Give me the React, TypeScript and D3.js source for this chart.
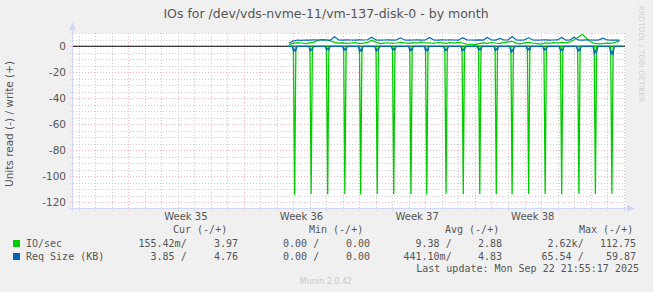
import React from "react";
import * as d3 from "d3";

const TITLE = "IOs for /dev/vds-nvme-11/vm-137-disk-0 - by month";
const Y_LABEL = "Units read (-) / write (+)";
const yMajorTicks = [0, -20, -40, -60, -80, -100, -120];
const weekLabelFormat = "Week %V";

// time frame (UTC)
const T0 = Date.UTC(2025, 7, 31); // Sun Aug 31 00:00
const domainStart = new Date(Date.UTC(2025, 7, 20, 16));
const domainEnd = new Date(Date.UTC(2025, 8, 23, 2));

// baseline samples: hours after T0, every 6h from hour 66
const baseStartHour = 66;
const baseStepHours = 6;
const writeIo = [
  1.5, 2.2, 2.8, 2.5, 2.0,
  2.6, 3.2, 4.5, 5.0, 4.8,
  4.2, 3.0, 2.4, 2.6, 2.2,
  2.5, 2.8, 2.1, 2.4, 3.0,
  4.6, 3.2, 2.0, 2.4, 2.7,
  2.2, 2.5, 3.0, 2.6, 2.3,
  2.8, 2.4, 3.1, 2.5, 2.7,
  2.3, 2.9, 2.6, 2.2, 2.8,
  2.4, 3.0, 2.5, 1.6, 1.4,
  1.2, 2.0, 2.6, 2.3, 2.9,
  2.5, 2.2, 2.8, 3.4, 3.8,
  2.4, 1.8, 2.6, 3.0, 2.5,
  2.1, 1.7, 2.6, 2.2, 2.8,
  2.4, 3.0, 2.6, 3.4, 5.0,
  7.0, 9.3, 6.0, 3.5, 2.2,
  1.8, 2.1, 2.4, 2.2, 3.0,
  3.97,
];
const writeReq = [
  2.5, 4.0, 4.8, 4.6, 4.8,
  4.7, 4.9, 4.8, 5.0, 4.8,
  4.7, 7.3, 4.8, 4.7, 4.9,
  4.8, 4.7, 4.9, 4.8, 5.0,
  7.0, 4.8, 4.7, 4.8, 4.9,
  4.7, 4.9, 6.5, 4.8, 4.7,
  4.8, 4.9, 4.7, 4.8, 6.8,
  4.8, 4.7, 4.9, 4.8, 5.0,
  4.8, 4.7, 6.6, 4.9, 4.8,
  4.7, 4.9, 4.8, 6.8, 4.8,
  4.7, 6.0, 4.8, 4.9, 7.5,
  4.8, 4.7, 4.9, 6.5, 4.8,
  4.7, 4.8, 4.9, 4.7, 4.8,
  4.9, 6.8, 4.7, 4.8, 7.0,
  4.8, 4.7, 4.9, 4.8, 4.7,
  4.9, 6.2, 4.8, 4.7, 4.8,
  4.76,
];

// daily read bursts: hours after T0, IO/sec read and Req size read
const spikeHours = [74, 98, 122, 147, 170, 194, 218, 243, 266, 294, 319, 343, 367, 390, 414, 438, 462, 487, 511, 535];
const spikeIoRead = [114.3, 113.6, 113.9, 113.7, 114.0, 113.6, 113.8, 113.9, 114.1, 113.5, 113.8, 113.6, 113.7, 113.9, 113.6, 113.7, 113.8, 113.7, 113.6, 113.5];
const spikeReqRead = [4.0, 3.5, 3.0, 3.2, 4.2, 3.6, 3.0, 3.4, 3.8, 3.5, 3.6, 3.1, 3.3, 4.5, 3.2, 3.0, 3.6, 3.8, 5.5, 6.5];
const readStartHour = 64;
const readEndHour = 550;

// legend
const seriesNames = ["IO/sec", "Req Size (KB)"];
const seriesColors = ["#00cc00", "#0066b3"];
const legendHeaders = ["Cur (-/+)", "Min (-/+)", "Avg (-/+)", "Max (-/+)"];
const curValues = [["155.42m/", "  3.97"], ["  3.85 /", "  4.76"]];
const minValues = [["  0.00 /", "  0.00"], ["  0.00 /", "  0.00"]];
const avgValues = [["  9.38 /", "  2.88"], ["441.10m/", "  4.83"]];
const maxValues = [["  2.62k/", "112.75"], [" 65.54 /", " 59.87"]];
const LAST_UPDATE = "Last update: Mon Sep 22 21:55:17 2025";
const FOOTER = "Munin 2.0.42";
const WATERMARK = "RRDTOOL / TOBI OETIKER";

const W = 653, H = 292;
const PL = 73, PR = 625, PT = 33, PB = 208;
const SANS = "'DejaVu Sans', sans-serif";
const MONO = "'DejaVu Sans Mono', monospace";
const FONT_COLOR = "#555";
const AXIS_COLOR = "#cfd6f8";

const hour = (h: number) => new Date(T0 + h * 3600 * 1000);

export default function App() {
  const x = d3.scaleUtc().domain([domainStart, domainEnd]).range([PL, PR]);
  const y = d3.scaleLinear().domain([-124.4, 10.2]).range([PB, PT]);

  const line = d3
    .line<[Date, number]>()
    .x((d) => x(d[0]))
    .y((d) => y(d[1]));

  const writeIoPts: [Date, number][] = writeIo.map((v, i) => [hour(baseStartHour + i * baseStepHours), v]);
  const writeReqPts: [Date, number][] = writeReq.map((v, i) => [hour(baseStartHour + i * baseStepHours), v]);

  const readIoPts: [Date, number][] = [[hour(readStartHour), 0]];
  spikeHours.forEach((h, i) => {
    readIoPts.push([hour(h - 1.8), 0], [hour(h), -spikeIoRead[i]], [hour(h + 1.8), 0]);
  });
  readIoPts.push([hour(readEndHour), 0]);

  const readReqPts: [Date, number][] = [[hour(readStartHour), 0]];
  spikeHours.forEach((h, i) => {
    readReqPts.push(
      [hour(h - 3.5), -0.2],
      [hour(h - 1.5), -spikeReqRead[i]],
      [hour(h), -spikeReqRead[i] * 0.6],
      [hour(h + 1.5), -spikeReqRead[i] * 0.9],
      [hour(h + 3.5), -0.2]
    );
  });
  readReqPts.push([hour(readEndHour), 0]);

  const days = d3.utcDay.range(domainStart, domainEnd);
  const weeks = d3.utcSunday.range(domainStart, domainEnd);
  const weekMid = weeks
    .map((w) => d3.utcHour.offset(w, 84))
    .filter((d) => x(d) < PR);

  const hMinor = d3.range(-120, 11, 5).filter((v) => v % 20 !== 0);

  const colNeg = [138.5, 271, 403.5, 535.5];
  const colPos = [202, 334, 466, 600];
  const headerX = [173, 309, 445, 579];
  const valueCols = [curValues, minValues, avgValues, maxValues];

  return (
    <svg
      width={W}
      height={H}
      style={{ position: "absolute", left: 0, top: 0, background: "#f0f0f0" }}
    >
      <rect x={0} y={0} width={W} height={H} fill="#f0f0f0" />
      <rect x={PL} y={PT} width={PR - PL} height={PB - PT} fill="#ffffff" />

      {/* minor grid */}
      <g stroke="#cccccc" strokeWidth={1} strokeDasharray="1,2" shapeRendering="crispEdges">
        {hMinor.map((v) => (
          <line key={"h" + v} x1={PL - 3} x2={PR} y1={Math.round(y(v)) + 0.5} y2={Math.round(y(v)) + 0.5} />
        ))}
        {days
          .filter((d) => d.getUTCDay() !== 0)
          .map((d) => (
            <line key={"v" + d.getTime()} x1={Math.round(x(d)) + 0.5} x2={Math.round(x(d)) + 0.5} y1={PT} y2={PB + 3} />
          ))}
      </g>
      {/* major grid */}
      <g stroke="#f4b4b4" strokeWidth={1} strokeDasharray="1,2" shapeRendering="crispEdges">
        {yMajorTicks.map((v) => (
          <line key={"H" + v} x1={PL - 3} x2={PR} y1={Math.round(y(v)) + 0.5} y2={Math.round(y(v)) + 0.5} />
        ))}
        {weeks.map((d) => (
          <line key={"V" + d.getTime()} x1={Math.round(x(d)) + 0.5} x2={Math.round(x(d)) + 0.5} y1={PT} y2={PB + 3} />
        ))}
      </g>

      {/* zero line */}
      <line x1={PL} x2={PR} y1={y(0)} y2={y(0)} stroke="#000" strokeWidth={1} />

      {/* data */}
      <path d={line(readIoPts) || ""} fill="none" stroke={seriesColors[0]} strokeWidth={1.3} />
      <path d={line(writeIoPts) || ""} fill="none" stroke={seriesColors[0]} strokeWidth={1.2} />
      <path d={line(readReqPts) || ""} fill="none" stroke={seriesColors[1]} strokeWidth={1.2} />
      <path d={line(writeReqPts) || ""} fill="none" stroke={seriesColors[1]} strokeWidth={1.2} />

      {/* axes */}
      <g stroke={AXIS_COLOR} strokeWidth={1} shapeRendering="crispEdges">
        <line x1={PL - 0.5} x2={PL - 0.5} y1={PB + 3} y2={PT - 4} />
        <line x1={PL - 3} x2={PR + 3} y1={PB + 0.5} y2={PB + 0.5} />
      </g>
      <path d={`M${PL - 4},${PT - 3} L${PL - 0.5},${PT - 11} L${PL + 3},${PT - 3} Z`} fill={AXIS_COLOR} />
      <path d={`M${PR + 2},${PB - 3} L${PR + 10},${PB + 0.5} L${PR + 2},${PB + 4} Z`} fill={AXIS_COLOR} />

      {/* y tick labels */}
      <g fontFamily={SANS} fontSize={10.5} fill={FONT_COLOR} textAnchor="end">
        {yMajorTicks.map((v) => (
          <text key={"yt" + v} x={66} y={y(v) + 4}>
            {v}
          </text>
        ))}
      </g>
      {/* x labels */}
      <g fontFamily={SANS} fontSize={10} fill={FONT_COLOR} textAnchor="middle">
        {weekMid.map((d) => (
          <text key={"xt" + d.getTime()} x={x(d)} y={220}>
            {d3.utcFormat(weekLabelFormat)(d)}
          </text>
        ))}
      </g>

      {/* title */}
      <text x={326} y={18} fontFamily={SANS} fontSize={12.5} fill={FONT_COLOR} textAnchor="middle">
        {TITLE}
      </text>
      {/* y label */}
      <text
        transform="translate(13,124) rotate(-90)"
        fontFamily={SANS}
        fontSize={10.5}
        fill={FONT_COLOR}
        textAnchor="middle"
      >
        {Y_LABEL}
      </text>
      {/* watermark */}
      <text
        transform="translate(639,54) rotate(90)"
        fontFamily={SANS}
        fontSize={7.5}
        fill="#d0d0d0"
        textAnchor="middle"
      >
        {WATERMARK}
      </text>

      {/* legend */}
      <g fontFamily={MONO} fontSize={10} fill={FONT_COLOR} style={{ whiteSpace: "pre" }}>
        {legendHeaders.map((h, i) => (
          <text key={"lh" + i} x={headerX[i]} y={233} xmlSpace="preserve">
            {h}
          </text>
        ))}
        {seriesNames.map((name, r) => {
          const yy = 247 + r * 13;
          return (
            <g key={"lr" + r}>
              <rect x={13} y={yy - 7} width={7} height={7} fill={seriesColors[r]} />
              <text x={26} y={yy}>{name}</text>
              {valueCols.map((col, c) => (
                <g key={"c" + c}>
                  <text x={colNeg[c]} y={yy} xmlSpace="preserve">{col[r][0]}</text>
                  <text x={colPos[c]} y={yy} xmlSpace="preserve">{col[r][1]}</text>
                </g>
              ))}
            </g>
          );
        })}
        <text x={639} y={272} textAnchor="end">{LAST_UPDATE}</text>
      </g>
      <text x={326} y={284} fontFamily={SANS} fontSize={8} fill="#c8c8c8" textAnchor="middle">
        {FOOTER}
      </text>
    </svg>
  );
}
